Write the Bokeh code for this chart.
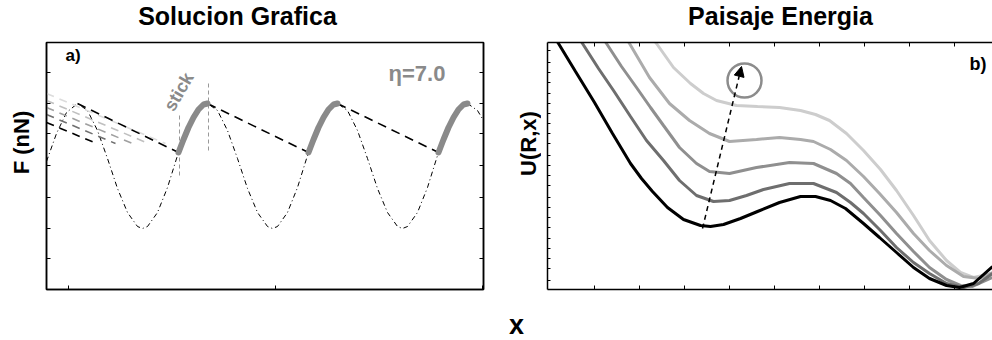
import math
from bokeh.plotting import figure
from bokeh.layouts import row, column
from bokeh.models import Range1d, LinearAxis, FixedTicker, Label, Arrow, NormalHead
from bokeh.embed import file_html
from bokeh.resources import INLINE

# ---------------- data: panel a (Solucion Grafica) ----------------
force_x = [0, 10, 20, 31, 41, 51, 61, 71, 81, 91, 96, 101, 111, 121, 131, 141, 151, 161,
           171, 181, 191, 201, 211, 221, 226, 231, 241, 251, 261, 271, 281, 291,
           301, 311, 321, 331, 341, 351, 356, 361, 371, 381, 391, 401, 411, 421, 431, 437]
force_y = [128, 156, 177, 186, 179, 159, 131, 101, 77, 63, 61, 63, 77, 102, 134, 163, 180, 186,
           179, 159, 131, 101, 77, 63, 61, 63, 77, 102, 134, 163, 180, 186,
           179, 159, 131, 101, 77, 63, 61, 63, 77, 102, 134, 163, 180, 186, 179, 169]

stick1_x = [132, 137, 142, 147, 152, 157, 161]
stick2_x = [262, 267, 272, 277, 282, 287, 291]
stick3_x = [392, 397, 402, 407, 412, 417, 421]
stick_y = [137, 150, 162, 172, 180, 185, 186]

slip_x0 = [31, 161, 291]
slip_y0 = [186, 186, 186]
slip_x1 = [132, 262, 392]
slip_y1 = [137, 137, 137]

approach_x0 = [0, 0, 0, 0, 0]
approach_y0 = [196, 189, 182, 175, 167]
approach_x1 = [119, 102, 86, 69, 50]
approach_y1 = [146, 146, 146, 146, 146]
approach_colors = ["#dcdcdc", "#c0c0c0", "#a0a0a0", "#707070", "#000000"]

vline_x = [133, 162]
vline_y0 = [114, 139]
vline_y1 = [177, 207]

a_left_ticks = [31, 61, 92, 124, 156, 186, 217]
a_bottom_ticks = [22, 229, 436]

# ---------------- data: panel b (Paisaje Energia) ----------------
u0_x = [5, 11, 28, 47, 65, 83, 94, 105, 120, 136, 153, 163, 176, 193, 210, 232, 253, 268,
        283, 298, 316, 332, 349, 366, 382, 399, 412, 426, 445]
u0_y = [255, 246, 218, 187, 156, 126, 111, 98, 82, 70, 64, 63, 65, 71, 78, 87, 93, 93,
        89, 81, 66, 52, 37, 22, 11, 4, 2, 6, 23]
u1_x = [30, 35, 51, 66, 83, 99, 116, 132, 149, 166, 182, 199, 216, 242, 266, 289, 303, 316,
        333, 349, 366, 382, 399, 416, 431, 445]
u1_y = [254, 246, 221, 199, 173, 149, 129, 109, 94, 88, 89, 94, 100, 106, 106, 97, 87, 76,
        59, 42, 27, 16, 6, 2, 6, 16]
u2_x = [54, 59, 74, 89, 103, 116, 132, 149, 162, 182, 209, 242, 266, 289, 303, 316, 333,
        349, 366, 382, 399, 413, 425, 445]
u2_y = [254, 246, 223, 202, 182, 164, 142, 126, 118, 116, 122, 127, 126, 116, 106, 92, 74,
        56, 38, 22, 10, 4, 3, 12]
u3_x = [77, 82, 102, 122, 142, 162, 182, 209, 232, 253, 266, 283, 299, 316, 332, 349, 366,
        382, 399, 416, 432, 445]
u3_y = [254, 246, 212, 186, 169, 156, 148, 150, 152, 150, 148, 140, 129, 113, 96, 77, 56,
        39, 24, 13, 11, 17]
u4_x = [103, 109, 126, 143, 156, 169, 189, 210, 232, 253, 268, 282, 299, 316, 333, 349, 366,
        382, 399, 413, 426, 445]
u4_y = [254, 246, 222, 206, 196, 189, 184, 183, 182, 179, 175, 169, 156, 139, 120, 99, 74,
        49, 29, 17, 12, 16]
curves_b = [(u4_x, u4_y, "#cdcdcd"), (u3_x, u3_y, "#ababab"), (u2_x, u2_y, "#8f8f8f"),
            (u1_x, u1_y, "#6e6e6e"), (u0_x, u0_y, "#000000")]

arrow_start = (155, 61)
arrow_end = (194, 223)
circle_center = (197, 209)

b_left_ticks = [9, 21, 31, 41, 51, 62, 72, 82, 92, 104, 114, 124, 134, 146, 156, 166, 176,
                186, 196, 207, 217, 227, 239]
b_bottom_ticks = [47, 92, 137, 182, 227, 272, 317, 362, 407]

FONT = "Liberation Sans"


def make_axis(ticks, tick_in):
    ax = LinearAxis(ticker=FixedTicker(ticks=ticks), major_tick_in=tick_in, major_tick_out=0,
                    minor_tick_line_color=None, major_label_text_font_size="0px",
                    major_label_standoff=0, axis_label_standoff=0, axis_line_width=1.5,
                    axis_line_color="black", major_tick_line_color="black",
                    major_tick_line_width=1)
    ax.major_label_overrides = {t: "" for t in ticks}
    return ax


def strip(width, height, x0, x1, y_top, y_bottom, pad_top=0, pad_bottom=0):
    """A text-only strip whose data coordinates equal page pixels."""
    s = figure(width=width, height=height, x_range=Range1d(x0, x1),
               y_range=Range1d(y_bottom, y_top), x_axis_type=None, y_axis_type=None,
               output_backend="svg", toolbar_location=None, title=None,
               min_border_left=0, min_border_right=0,
               min_border_top=pad_top, min_border_bottom=pad_bottom)
    s.outline_line_color = None
    s.background_fill_color = "white"
    s.border_fill_color = "white"
    return s


def label(p, x, y, text, size, color="black", angle=0.0, align="left"):
    # (x, y) is the middle of the text box
    p.add_layout(Label(x=x, y=y, text=text, angle=angle, text_font=FONT, text_font_style="bold",
                       text_font_size=size, text_color=color, text_align=align,
                       text_baseline="middle"))


# ---------------- top strip: titles ----------------
top = strip(992, 38, 0, 992, 0, 38)
label(top, 237, 15.5, "Solucion Grafica", "25px", align="center")
label(top, 780, 15.5, "Paisaje Energia", "25px", align="center")

# ---------------- left strip: F (nN) ----------------
left = strip(40, 255, 0, 40, 42, 289, pad_top=4, pad_bottom=4)
label(left, 21, 142, "F (nN)", "22px", angle=math.pi / 2, align="center")

# ---------------- panel a ----------------
pa = figure(width=449, height=255, x_range=Range1d(0, 437), y_range=Range1d(0, 247),
            x_axis_type=None, y_axis_type=None, output_backend="svg", toolbar_location=None,
            title=None, min_border_left=6, min_border_right=6, min_border_top=4,
            min_border_bottom=4)
pa.outline_line_color = "black"
pa.outline_line_width = 1.5
pa.background_fill_color = "white"
pa.border_fill_color = "white"
pa.add_layout(make_axis(a_left_ticks, 4), "left")
pa.add_layout(make_axis(a_left_ticks, 4), "right")
pa.add_layout(make_axis(a_bottom_ticks, 4), "below")

pa.line(force_x, force_y, line_color="black", line_width=1, line_dash="5 3 1 3")
for i in range(5):
    pa.segment(x0=[approach_x0[i]], y0=[approach_y0[i]], x1=[approach_x1[i]], y1=[approach_y1[i]],
               line_color=approach_colors[i], line_width=1.6, line_dash="8 6")
pa.segment(x0=slip_x0, y0=slip_y0, x1=slip_x1, y1=slip_y1, line_color="black",
           line_width=1.6, line_dash="9 6")
pa.segment(x0=vline_x, y0=vline_y0, x1=vline_x, y1=vline_y1, line_color="#999999",
           line_width=1, line_dash="4 3")
for sx in (stick1_x, stick2_x, stick3_x):
    pa.line(sx, stick_y, line_color="#8a8a8a", line_width=6, line_cap="round")

label(pa, 122, 180, "stick", "18px", color="#8a8a8a", angle=math.radians(60))
label(pa, 342, 216.5, "η=7.0", "22px", color="#8a8a8a")
label(pa, 19, 234, "a)", "17px")

# ---------------- gap strip: U(R,x) ----------------
gap = strip(52, 255, 489, 541, 42, 289, pad_top=4, pad_bottom=4)
label(gap, 528, 143, "U(R,x)", "22px", angle=math.pi / 2, align="center")

# ---------------- panel b ----------------
pb = figure(width=451, height=255, x_range=Range1d(0, 445), y_range=Range1d(0, 247),
            x_axis_type=None, y_axis_type=None, output_backend="svg", toolbar_location=None,
            title=None, min_border_left=6, min_border_right=0, min_border_top=4,
            min_border_bottom=4)
pb.outline_line_color = None
pb.background_fill_color = "white"
pb.border_fill_color = "white"
pb.add_layout(make_axis(b_left_ticks, 3), "left")
pb.add_layout(make_axis(b_bottom_ticks, 4), "below")
pb.add_layout(make_axis(b_bottom_ticks, 4), "above")

for cx, cy, col in curves_b:
    pb.line(cx, cy, line_color=col, line_width=3)

pb.add_layout(Arrow(end=NormalHead(size=10, fill_color="black", line_color="black"),
                    x_start=arrow_start[0], y_start=arrow_start[1],
                    x_end=arrow_end[0], y_end=arrow_end[1],
                    line_color="black", line_width=1.5, line_dash="5 4"))
pb.scatter([circle_center[0]], [circle_center[1]], marker="circle", size=34,
           fill_color=None, line_color="#8c8c8c", line_width=2.5)

label(pb, 422, 225.5, "b)", "18px")

# ---------------- bottom strip: x ----------------
bottom = strip(992, 47, 0, 992, 293, 340)
label(bottom, 516, 324, "x", "27px", align="center")

layout = column(top, row(left, pa, gap, pb), bottom)
open("out.html", "w").write(file_html(layout, INLINE))
